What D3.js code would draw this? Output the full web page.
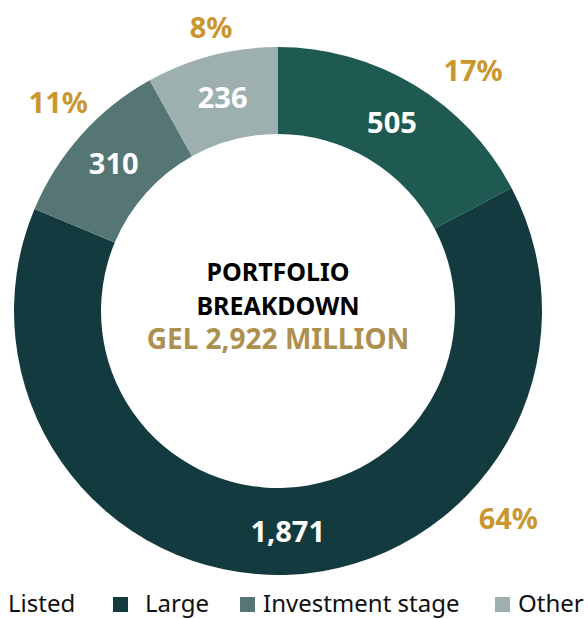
<!DOCTYPE html>
<html>
<head>
<meta charset="utf-8">
<script src="https://cdn.jsdelivr.net/npm/d3@7"></script>
<style>
  body { margin: 0; background: #fff; }
  svg text { font-family: "Noto Sans", "Open Sans", sans-serif; }
</style>
</head>
<body>
<div id="chart"></div>
<script>
// data
var categories = ["Listed", "Large", "Investment stage", "Other"];
var values = [505, 1871, 310, 236];
var percentLabels = ["17%", "64%", "11%", "8%"];
var colors = ["#1e5a52", "#133a3f", "#567675", "#9eafb0"];
var centerTitle = ["PORTFOLIO", "BREAKDOWN"];
var centerTotal = "GEL 2,922 MILLION";

// where the % labels sit (angle in degrees from 12 o'clock, radius)
var pctAngle = [39, 132, 313.5, 346.7];
var pctRadius = [310, 310, 303, 291];

var width = 588, height = 619;
var cx = 278, cy = 311;
var outerR = 264, innerR = 177;

var svg = d3.select("#chart").append("svg")
    .attr("width", width)
    .attr("height", height);

var g = svg.append("g")
    .attr("transform", "translate(" + cx + "," + cy + ")");

var pie = d3.pie().sort(null).value(function(d) { return d; });
var arcs = pie(values);

var arc = d3.arc()
    .innerRadius(innerR)
    .outerRadius(outerR);

g.selectAll(".slice")
    .data(arcs)
  .enter().append("path")
    .attr("class", "slice")
    .attr("d", arc)
    .attr("fill", function(d, i) { return colors[i]; });

// value labels inside the ring
g.selectAll(".val")
    .data(arcs)
  .enter().append("text")
    .attr("class", "val")
    .attr("transform", function(d) { return "translate(" + arc.centroid(d) + ")"; })
    .attr("text-anchor", "middle")
    .attr("dy", "0.36em")
    .attr("fill", "#fff")
    .style("font-size", "29px")
    .style("font-weight", "bold")
    .text(function(d) { return d3.format(",")(d.data); });

// percentage labels outside
g.selectAll(".pct")
    .data(arcs)
  .enter().append("text")
    .attr("class", "pct")
    .attr("x", function(d, i) { return pctRadius[i] * Math.sin(pctAngle[i] * Math.PI / 180); })
    .attr("y", function(d, i) { return -pctRadius[i] * Math.cos(pctAngle[i] * Math.PI / 180); })
    .attr("text-anchor", "middle")
    .attr("dy", "0.36em")
    .attr("fill", "#c9962f")
    .style("font-size", "29px")
    .style("font-weight", "bold")
    .text(function(d, i) { return percentLabels[i]; });

// centre text
g.selectAll(".title")
    .data(centerTitle)
  .enter().append("text")
    .attr("class", "title")
    .attr("text-anchor", "middle")
    .attr("y", function(d, i) { return -39 + i * 34; })
    .attr("dy", "0.36em")
    .attr("fill", "#000")
    .style("font-size", "25px")
    .style("font-weight", "bold")
    .text(function(d) { return d; });

g.append("text")
    .attr("text-anchor", "middle")
    .attr("y", 28)
    .attr("dy", "0.36em")
    .attr("fill", "#ad9050")
    .style("font-size", "28px")
    .style("font-weight", "bold")
    .text(centerTotal);

// legend ("Listed" swatch falls off the left edge, as in the original)
var legendX = [-24, 113, 240, 495];
var legend = svg.selectAll(".legend")
    .data(categories)
  .enter().append("g")
    .attr("class", "legend")
    .attr("transform", function(d, i) { return "translate(" + legendX[i] + ",595)"; });

legend.append("rect")
    .attr("y", 2)
    .attr("width", 15)
    .attr("height", 15)
    .attr("fill", function(d, i) { return colors[i]; });

legend.append("text")
    .attr("x", function(d, i) { return i == 1 ? 32 : (i == 0 ? 32 : 23); })
    .attr("y", 8)
    .attr("dy", "0.36em")
    .attr("fill", "#111")
    .style("font-size", "24px")
    .text(function(d) { return d; });
</script>
</body>
</html>
